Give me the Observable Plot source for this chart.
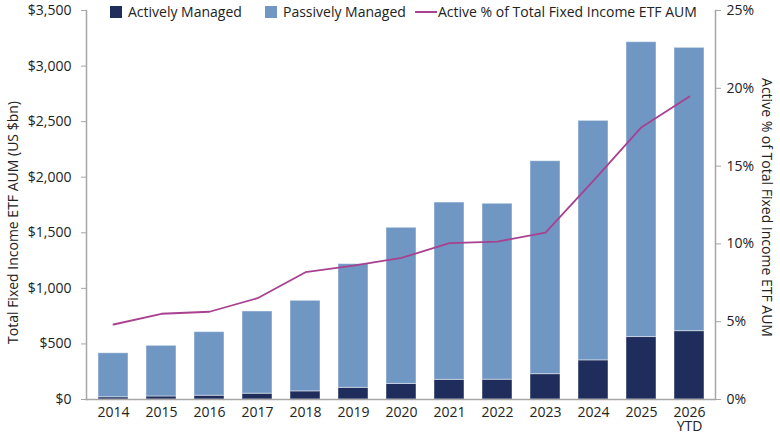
<!DOCTYPE html>
<html>
<head>
<meta charset="utf-8">
<script src="https://cdn.jsdelivr.net/npm/d3@7"></script>
<script src="https://cdn.jsdelivr.net/npm/@observablehq/plot@0.6"></script>
<style>
  body { margin: 0; background: #fff; font-family: "Open Sans", sans-serif; }
  #wrap { position: relative; width: 780px; height: 440px; }
  .legend-item { position: absolute; top: 2px; display: flex; align-items: center; font-size: 14px; color: #222; white-space: nowrap; }
  .sw { display: inline-block; width: 12px; height: 12px; margin-right: 6px; }
  .ln { display: inline-block; width: 22px; height: 2px; margin-right: 1px; }
  .axis-title { position: absolute; font-size: 14px; color: #222; white-space: nowrap; transform-origin: center center; }
</style>
</head>
<body>
<div id="wrap"></div>
<script>
const years = ["2014","2015","2016","2017","2018","2019","2020","2021","2022","2023","2024","2025","2026\nYTD"];
const active = [20, 27, 34, 52, 73, 105, 140, 177, 178, 228, 352, 562, 615];
const passive = [396, 456, 572, 740, 815, 1113, 1405, 1595, 1583, 1916, 2155, 2653, 2549];
const activePct = [4.82, 5.51, 5.64, 6.51, 8.18, 8.6, 9.1, 10.05, 10.15, 10.73, 14.07, 17.5, 19.47];
const series = ["Actively Managed", "Passively Managed"];
const lineName = "Active % of Total Fixed Income ETF AUM";
const leftTitle = "Total Fixed Income ETF AUM (US $bn)";
const colors = ["#1f2d5c", "#7097c4"];
const lineColor = "#a8418f";
const leftTicks = [0, 500, 1000, 1500, 2000, 2500, 3000, 3500];
const rightTicks = [0, 5, 10, 15, 20, 25];

const yMax = 3500, pctMax = 25, k = yMax / pctMax;

const bars = [];
years.forEach((y, i) => {
  bars.push({year: y, series: series[0], value: active[i]});
  bars.push({year: y, series: series[1], value: passive[i]});
});
const pts = years.map((y, i) => ({year: y, pct: activePct[i]}));

const chart = Plot.plot({
  width: 780,
  height: 440,
  marginLeft: 86,
  marginRight: 65,
  marginTop: 10,
  marginBottom: 41,
  style: {fontFamily: "Open Sans, sans-serif", fontSize: "14px", color: "#222", background: "transparent"},
  x: {domain: years, padding: 0.38, paddingOuter: 0.19, label: null},
  y: {domain: [0, yMax], label: null},
  color: {domain: series, range: colors},
  marks: [
    Plot.barY(bars, {x: "year", y: "value", fill: "series", order: series, stroke: "white", strokeOpacity: 0.45, strokeWidth: 1}),
    Plot.line(pts, {x: "year", y: d => d.pct * k, stroke: lineColor, strokeWidth: 1.8}),
    Plot.ruleY([0], {stroke: "#a6a6a6", strokeWidth: 1.5}),
    Plot.frame({anchor: "left", stroke: "#a6a6a6", strokeWidth: 1.5}),
    Plot.frame({anchor: "right", stroke: "#a6a6a6", strokeWidth: 1.5}),
    Plot.axisX({tickSize: 0, tickPadding: 8, label: null, fontSize: 14, lineHeight: 0.98}),
    Plot.axisY({anchor: "left", ticks: leftTicks, tickSize: 5, tickPadding: 10, stroke: "#a6a6a6",
      tickFormat: d => "$" + d3.format(",")(d), label: null}),
    Plot.axisY({anchor: "right", ticks: rightTicks.map(t => t * k), tickSize: 5, tickPadding: 6, stroke: "#a6a6a6",
      tickFormat: d => Math.round(d / k) + "%", label: null})
  ]
});
const wrap = document.getElementById("wrap");
wrap.appendChild(chart);

function addLegend(left, html) {
  const it = document.createElement("div");
  it.className = "legend-item";
  it.style.left = left + "px";
  it.innerHTML = html;
  wrap.appendChild(it);
}
addLegend(110, `<span class="sw" style="background:${colors[0]}"></span>${series[0]}`);
addLegend(265, `<span class="sw" style="background:${colors[1]}"></span>${series[1]}`);
addLegend(415, `<span class="ln" style="background:${lineColor}"></span>${lineName}`);

function addTitle(text, cx, cy, deg) {
  const t = document.createElement("div");
  t.className = "axis-title";
  t.textContent = text;
  wrap.appendChild(t);
  const w = t.offsetWidth, h = t.offsetHeight;
  t.style.left = (cx - w / 2) + "px";
  t.style.top = (cy - h / 2) + "px";
  t.style.transform = `rotate(${deg}deg)`;
}
addTitle(leftTitle, 12, 222, -90);
addTitle(lineName, 767, 207, 90);
</script>
</body>
</html>
